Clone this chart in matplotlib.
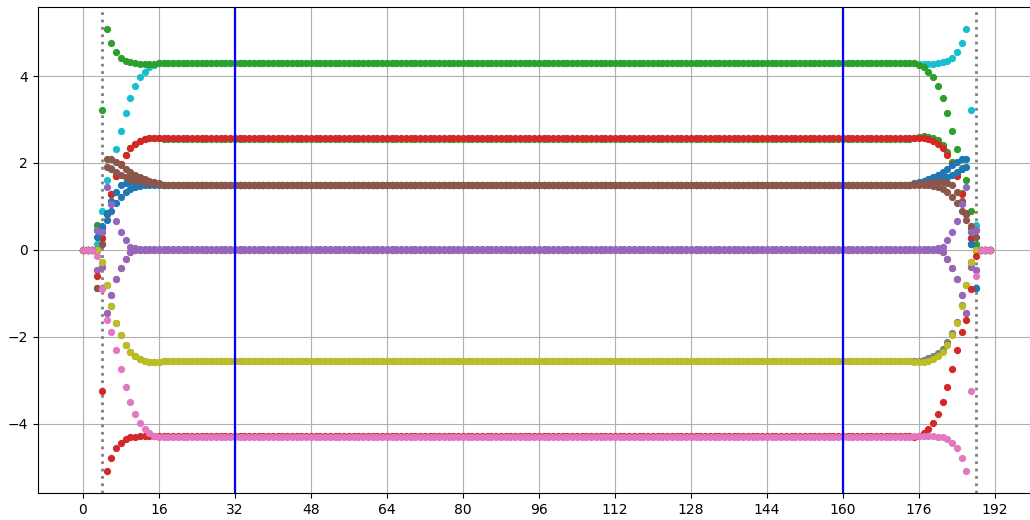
import numpy as np
import matplotlib
matplotlib.use('Agg')
import matplotlib.pyplot as plt

# sample index 0..191; each series = head (0..16) + flat level (17..174) + tail (175..191)
n_samples = 192
n_head = 17

cyan_head = [0, 0, 0, 0.14, 0.89, 1.60, 1.89, 2.31, 2.74, 3.14, 3.49, 3.77, 3.97, 4.10, 4.20, 4.26, 4.29]
cyan_tail = [4.29, 4.28, 4.27, 4.27, 4.28, 4.30, 4.32, 4.35, 4.42, 4.55, 4.77, 5.08, 3.21, 0.58, 0, 0, 0]
green_top_head = [0, 0, 0, 0.58, 3.21, 5.08, 4.77, 4.55, 4.42, 4.35, 4.32, 4.30, 4.28, 4.27, 4.27, 4.28, 4.29]
green_top_tail = [4.29, 4.26, 4.20, 4.10, 3.97, 3.77, 3.49, 3.14, 2.74, 2.31, 1.89, 1.60, 0.89, 0.14, 0, 0, 0]

green_mid_head = [0, 0, 0, 0.0, 0.27, 0.82, 1.29, 1.70, 1.98, 2.18, 2.34, 2.44, 2.51, 2.55, 2.57, 2.58, 2.58]
green_mid_tail = [2.58, 2.60, 2.61, 2.60, 2.58, 2.52, 2.42, 2.25, 2.02, 1.74, 1.31, 0.83, 0.27, 0.0, 0, 0, 0]
red_mid_head = [0, 0, 0, 0.0, 0.27, 0.82, 1.29, 1.70, 1.98, 2.18, 2.34, 2.44, 2.51, 2.55, 2.57, 2.58, 2.58]
red_mid_tail = [2.58, 2.58, 2.57, 2.55, 2.51, 2.44, 2.34, 2.18, 1.98, 1.70, 1.29, 0.82, 0.27, 0.0, 0, 0, 0]

blue_a_head = [0, 0, 0, 0.29, 0.55, 0.85, 1.12, 1.34, 1.48, 1.53, 1.55, 1.55, 1.55, 1.54, 1.53, 1.52, 1.51]
blue_a_tail = [1.54, 1.56, 1.59, 1.63, 1.68, 1.73, 1.79, 1.86, 1.95, 2.03, 2.10, 2.10, 0.14, -0.89, 0, 0, 0]
blue_b_head = [0, 0, 0, 0.45, 0.50, 0.69, 0.90, 1.08, 1.22, 1.32, 1.39, 1.44, 1.47, 1.49, 1.50, 1.50, 1.50]
blue_b_tail = [1.52, 1.53, 1.54, 1.56, 1.58, 1.60, 1.63, 1.67, 1.72, 1.78, 1.85, 1.91, 0.14, -0.89, 0, 0, 0]
brown_a_head = [0, 0, 0, -0.89, 0.14, 2.10, 2.10, 2.03, 1.95, 1.86, 1.79, 1.73, 1.68, 1.63, 1.59, 1.56, 1.54]
brown_a_tail = [1.51, 1.52, 1.53, 1.54, 1.55, 1.55, 1.55, 1.53, 1.48, 1.34, 1.12, 0.85, 0.55, 0.29, 0, 0, 0]
brown_b_head = [0, 0, 0, -0.89, 0.14, 1.91, 1.85, 1.78, 1.72, 1.67, 1.63, 1.60, 1.58, 1.56, 1.54, 1.53, 1.52]
brown_b_tail = [1.50, 1.50, 1.50, 1.49, 1.47, 1.44, 1.39, 1.32, 1.22, 1.08, 0.90, 0.69, 0.50, 0.45, 0, 0, 0]

purple_a_head = [0, 0, 0, 0.46, 0.40, 1.45, 1.06, 0.67, 0.41, 0.23, 0.06, 0.03, 0.02, 0.02, 0.02, 0.02, 0.02]
purple_a_tail = [0.02, 0.02, 0.02, 0.02, 0.02, 0.03, 0.06, 0.23, 0.41, 0.67, 1.06, 1.45, 0.40, 0.46, 0, 0, 0]
purple_b_head = [0, 0, 0, -0.46, -0.39, -1.45, -1.04, -0.68, -0.41, -0.22, -0.04, -0.01, 0.0, 0.0, 0.0, 0.0, 0.0]
purple_b_tail = [0.0, 0.0, 0.0, 0.0, 0.0, -0.01, -0.04, -0.22, -0.41, -0.68, -1.04, -1.45, -0.39, -0.46, 0, 0, 0]

gray_head = [0, 0, 0, 0.0, -0.27, -0.82, -1.30, -1.69, -1.97, -2.20, -2.35, -2.45, -2.52, -2.56, -2.58, -2.59, -2.59]
gray_tail = [-2.57, -2.55, -2.53, -2.50, -2.45, -2.38, -2.28, -2.12, -1.92, -1.66, -1.28, -0.81, -0.27, 0.0, 0, 0, 0]
olive_head = [0, 0, 0, 0.0, -0.27, -0.82, -1.30, -1.69, -1.97, -2.20, -2.35, -2.45, -2.52, -2.56, -2.58, -2.59, -2.59]
olive_tail = [-2.59, -2.59, -2.58, -2.56, -2.52, -2.45, -2.35, -2.20, -1.97, -1.69, -1.30, -0.82, -0.27, 0.0, 0, 0, 0]

red_low_head = [0, 0, 0, -0.60, -3.24, -5.09, -4.79, -4.57, -4.44, -4.36, -4.32, -4.30, -4.29, -4.28, -4.28, -4.28, -4.28]
red_low_tail = [-4.32, -4.29, -4.22, -4.12, -3.98, -3.77, -3.50, -3.16, -2.75, -2.31, -1.90, -1.62, -0.91, -0.15, 0, 0, 0]
pink_head = [0, 0, 0, -0.15, -0.91, -1.62, -1.90, -2.31, -2.75, -3.16, -3.50, -3.77, -3.98, -4.12, -4.22, -4.29, -4.32]
pink_tail = [-4.28, -4.28, -4.28, -4.28, -4.29, -4.30, -4.32, -4.36, -4.44, -4.57, -4.79, -5.09, -3.24, -0.60, 0, 0, 0]

# flat levels in the middle part
levels = {
    'orange': 0.0, 'cyan': 4.29, 'green_top': 4.29, 'green_mid': 2.55, 'red_mid': 2.57,
    'blue_a': 1.50, 'blue_b': 1.50, 'brown_a': 1.49, 'brown_b': 1.49,
    'purple_a': 0.01, 'purple_b': 0.0, 'gray': -2.55, 'olive': -2.57,
    'red_low': -4.29, 'pink': -4.30,
}

v_lines = [32, 160]
dotted_lines = [4, 188]
x_ticks = list(range(0, 193, 16))


def build(head, level, tail):
    mid = np.full(n_samples - 2 * n_head, level)
    return np.concatenate([head, mid, tail])


# drawing order = stacking order (later ones on top)
series = [
    ('tab:orange', purple_b_head, levels['orange'], purple_b_tail),
    ('tab:cyan', cyan_head, levels['cyan'], cyan_tail),
    ('tab:green', green_top_head, levels['green_top'], green_top_tail),
    ('tab:green', green_mid_head, levels['green_mid'], green_mid_tail),
    ('tab:red', red_mid_head, levels['red_mid'], red_mid_tail),
    ('tab:blue', blue_a_head, levels['blue_a'], blue_a_tail),
    ('tab:blue', blue_b_head, levels['blue_b'], blue_b_tail),
    ('tab:brown', brown_a_head, levels['brown_a'], brown_a_tail),
    ('tab:brown', brown_b_head, levels['brown_b'], brown_b_tail),
    ('tab:purple', purple_a_head, levels['purple_a'], purple_a_tail),
    ('tab:purple', purple_b_head, levels['purple_b'], purple_b_tail),
    ('tab:gray', gray_head, levels['gray'], gray_tail),
    ('tab:olive', olive_head, levels['olive'], olive_tail),
    ('tab:red', red_low_head, levels['red_low'], red_low_tail),
    ('tab:pink', pink_head, levels['pink'], pink_tail),
]

fig = plt.figure(figsize=(10.3, 5.2), dpi=100)
# the right edge of the axes runs past the picture, as in the reference
ax = fig.add_axes([37.6 / 1030, 27 / 520, 998 / 1030, 486 / 520])

x = np.arange(n_samples)
for xv in dotted_lines:
    ax.axvline(xv, color='gray', linestyle=':', linewidth=2)

for color, head, level, tail in series:
    ax.plot(x, build(head, level, tail), 'o', color=color, markersize=4.2, linestyle='none')

for xv in v_lines:
    ax.axvline(xv, color='b', linewidth=1.6)

ax.set_xticks(x_ticks)
ax.grid(True)
ax.margins(x=0.05, y=0.05)

plt.savefig('out.png')
